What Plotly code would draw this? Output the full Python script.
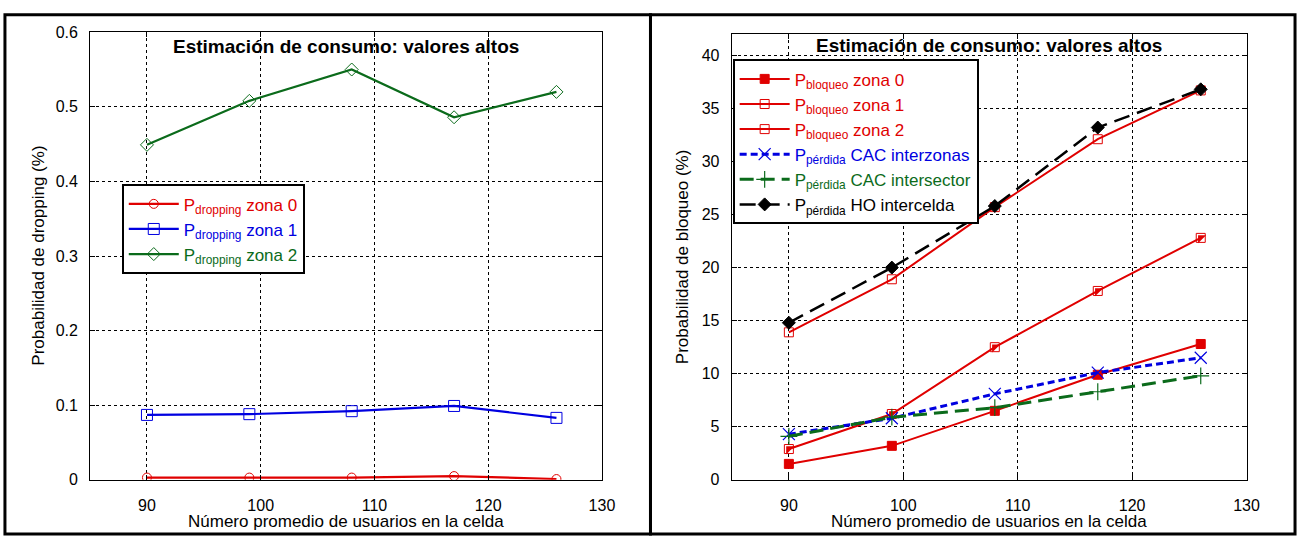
import plotly.graph_objects as go

W, H = 1311, 545

# ---------------- data ----------------
x_users = [90, 99, 108, 117, 126]

drop_z0 = [0.003, 0.003, 0.003, 0.005, 0.001]
drop_z1 = [0.087, 0.088, 0.092, 0.099, 0.083]
drop_z2 = [0.449, 0.508, 0.550, 0.486, 0.520]

bloq_z0 = [1.5, 3.2, 6.5, 9.9, 12.8]
bloq_z1 = [2.9, 6.2, 12.5, 17.8, 22.8]
bloq_z2 = [13.9, 18.9, 25.7, 32.1, 36.7]
perd_interzonas = [4.3, 5.8, 8.1, 10.1, 11.5]
perd_intersector = [4.1, 5.9, 6.8, 8.3, 9.8]
perd_ho = [14.8, 20.0, 25.8, 33.2, 36.8]

x_ticks = [90, 100, 110, 120, 130]
y1_ticks = [0, 0.1, 0.2, 0.3, 0.4, 0.5, 0.6]
y2_ticks = [0, 5, 10, 15, 20, 25, 30, 35, 40]

title_txt = "<b>Estimación de consumo: valores altos</b>"
xlabel = "Número promedio de usuarios en la celda"
ylabel1 = "Probabilidad de dropping (%)"
ylabel2 = "Probabilidad de bloqueo (%)"

RED = "#e00000"
BLUE = "#0000e0"
GREEN = "#0b6b1b"
BLACK = "#000000"
FONT = "Liberation Sans, Arial, sans-serif"


def px(x):
    return x / W


def py(y):
    return 1 - y / H


def lab(txt, sub, rest, color):
    return f"<span style='color:{color}'>{txt}<sub>{sub}</sub> {rest}</span>"


fig = go.Figure()

# ---------------- left chart ----------------
fig.add_trace(go.Scatter(x=x_users, y=drop_z0, mode="lines+markers",
                         line=dict(color=RED, width=2.2),
                         marker=dict(symbol="circle-open", size=9, color=RED, line=dict(width=1)),
                         name=lab("P", "dropping", "zona 0", RED),
                         xaxis="x", yaxis="y", legend="legend"))
fig.add_trace(go.Scatter(x=x_users, y=drop_z1, mode="lines+markers",
                         line=dict(color=BLUE, width=2.2),
                         marker=dict(symbol="square-open", size=11, color=BLUE, line=dict(width=1)),
                         name=lab("P", "dropping", "zona 1", BLUE),
                         xaxis="x", yaxis="y", legend="legend"))
fig.add_trace(go.Scatter(x=x_users, y=drop_z2, mode="lines+markers",
                         line=dict(color=GREEN, width=2.2),
                         marker=dict(symbol="diamond-open", size=10, color=GREEN, line=dict(width=1)),
                         name=lab("P", "dropping", "zona 2", GREEN),
                         xaxis="x", yaxis="y", legend="legend"))

# ---------------- right chart ----------------
fig.add_trace(go.Scatter(x=x_users, y=bloq_z0, mode="lines+markers",
                         line=dict(color=RED, width=2),
                         marker=dict(symbol="square", size=9, color=RED, line=dict(width=1, color=RED)),
                         name=lab("P", "bloqueo", "zona 0", RED),
                         xaxis="x2", yaxis="y2", legend="legend2"))
fig.add_trace(go.Scatter(x=x_users, y=bloq_z1, mode="markers",
                         marker=dict(symbol="triangle-nw", size=9, color=RED, line=dict(width=0)),
                         showlegend=False, hoverinfo="skip",
                         xaxis="x2", yaxis="y2", legend="legend2"))
fig.add_trace(go.Scatter(x=x_users, y=bloq_z1, mode="lines+markers",
                         line=dict(color=RED, width=2),
                         marker=dict(symbol="square-open", size=9, color=RED, line=dict(width=1)),
                         name=lab("P", "bloqueo", "zona 1", RED),
                         xaxis="x2", yaxis="y2", legend="legend2"))
fig.add_trace(go.Scatter(x=x_users, y=bloq_z2, mode="lines+markers",
                         line=dict(color=RED, width=2),
                         marker=dict(symbol="square-open", size=9, color=RED, line=dict(width=1)),
                         name=lab("P", "bloqueo", "zona 2", RED),
                         xaxis="x2", yaxis="y2", legend="legend2"))
fig.add_trace(go.Scatter(x=x_users, y=perd_interzonas, mode="lines+markers",
                         line=dict(color=BLUE, width=3, dash="7px,4px"),
                         marker=dict(symbol="x-thin-open", size=12, color=BLUE, line=dict(width=1.2, color=BLUE)),
                         name=lab("P", "pérdida", "CAC interzonas", BLUE),
                         xaxis="x2", yaxis="y2", legend="legend2"))
fig.add_trace(go.Scatter(x=x_users, y=perd_intersector, mode="lines+markers",
                         line=dict(color=GREEN, width=3, dash="14px,7px"),
                         marker=dict(symbol="cross-thin-open", size=12, color=GREEN, line=dict(width=1.2, color=GREEN)),
                         name=lab("P", "pérdida", "CAC intersector", GREEN),
                         xaxis="x2", yaxis="y2", legend="legend2"))
fig.add_trace(go.Scatter(x=x_users, y=perd_ho, mode="lines+markers",
                         line=dict(color=BLACK, width=2.5, dash="16px,8px"),
                         marker=dict(symbol="diamond", size=10, color=BLACK, line=dict(width=1, color=BLACK)),
                         name=lab("P", "pérdida", "HO intercelda", BLACK),
                         xaxis="x2", yaxis="y2", legend="legend2"))

axis_common = dict(
    showline=True, linecolor="black", linewidth=1, mirror="allticks",
    ticks="inside", ticklen=5, tickcolor="black",
    showgrid=True, gridcolor="black", griddash="dot", gridwidth=1,
    zeroline=False, tickfont=dict(family=FONT, size=16, color="black"),
)

fig.update_layout(
    width=W, height=H,
    margin=dict(l=0, r=0, t=0, b=0),
    paper_bgcolor="white", plot_bgcolor="white",
    font=dict(family=FONT, size=16, color="black"),
    xaxis=dict(domain=[px(91), px(608)], range=[85, 130.001], tickvals=x_ticks,
               anchor="y", ticklabelstandoff=11, **axis_common),
    yaxis=dict(domain=[py(487), py(25)], range=[0, 0.6], tickvals=y1_ticks,
               anchor="x", ticklabelstandoff=8, **axis_common),
    xaxis2=dict(domain=[px(739), px(1259)], range=[85, 130.001], tickvals=x_ticks,
                anchor="y2", ticklabelstandoff=11, **axis_common),
    yaxis2=dict(domain=[py(487), py(27)], range=[0, 42], tickvals=y2_ticks,
                anchor="x2", ticklabelstandoff=8, **axis_common),
    legend=dict(x=px(123), y=py(182), xanchor="left", yanchor="top",
                bgcolor="white", bordercolor="black", borderwidth=2,
                font=dict(family=FONT, size=17), itemwidth=50, tracegroupgap=0),
    legend2=dict(x=px(740), y=py(53), xanchor="left", yanchor="top",
                 bgcolor="white", bordercolor="black", borderwidth=2,
                 font=dict(family=FONT, size=17), itemwidth=50, tracegroupgap=0),
    showlegend=True,
)

annotations = [
    dict(text=title_txt, x=px(349.5), y=py(40), xref="paper", yref="paper",
         showarrow=False, xanchor="center", yanchor="middle",
         font=dict(family=FONT, size=19, color="black")),
    dict(text=title_txt, x=px(999), y=py(39), xref="paper", yref="paper",
         showarrow=False, xanchor="center", yanchor="middle",
         font=dict(family=FONT, size=19, color="black")),
    dict(text=xlabel, x=px(349.5), y=py(530), xref="paper", yref="paper",
         showarrow=False, xanchor="center", yanchor="middle",
         font=dict(family=FONT, size=17, color="black")),
    dict(text=xlabel, x=px(999), y=py(530), xref="paper", yref="paper",
         showarrow=False, xanchor="center", yanchor="middle",
         font=dict(family=FONT, size=17, color="black")),
    dict(text=ylabel1, x=px(38), y=py(256), xref="paper", yref="paper",
         showarrow=False, xanchor="center", yanchor="middle", textangle=-90,
         font=dict(family=FONT, size=17, color="black")),
    dict(text=ylabel2, x=px(690), y=py(257), xref="paper", yref="paper",
         showarrow=False, xanchor="center", yanchor="middle", textangle=-90,
         font=dict(family=FONT, size=17, color="black")),
]
fig.update_layout(annotations=annotations)

shapes = [
    dict(type="rect", xref="paper", yref="paper",
         x0=px(5), x1=px(657), y0=py(543), y1=py(7),
         line=dict(color="black", width=3), fillcolor="rgba(0,0,0,0)", layer="above"),
    dict(type="rect", xref="paper", yref="paper",
         x0=px(657), x1=px(1308), y0=py(543), y1=py(7),
         line=dict(color="black", width=3), fillcolor="rgba(0,0,0,0)", layer="above"),
]
fig.update_layout(shapes=shapes)

fig.write_html("out.html")
